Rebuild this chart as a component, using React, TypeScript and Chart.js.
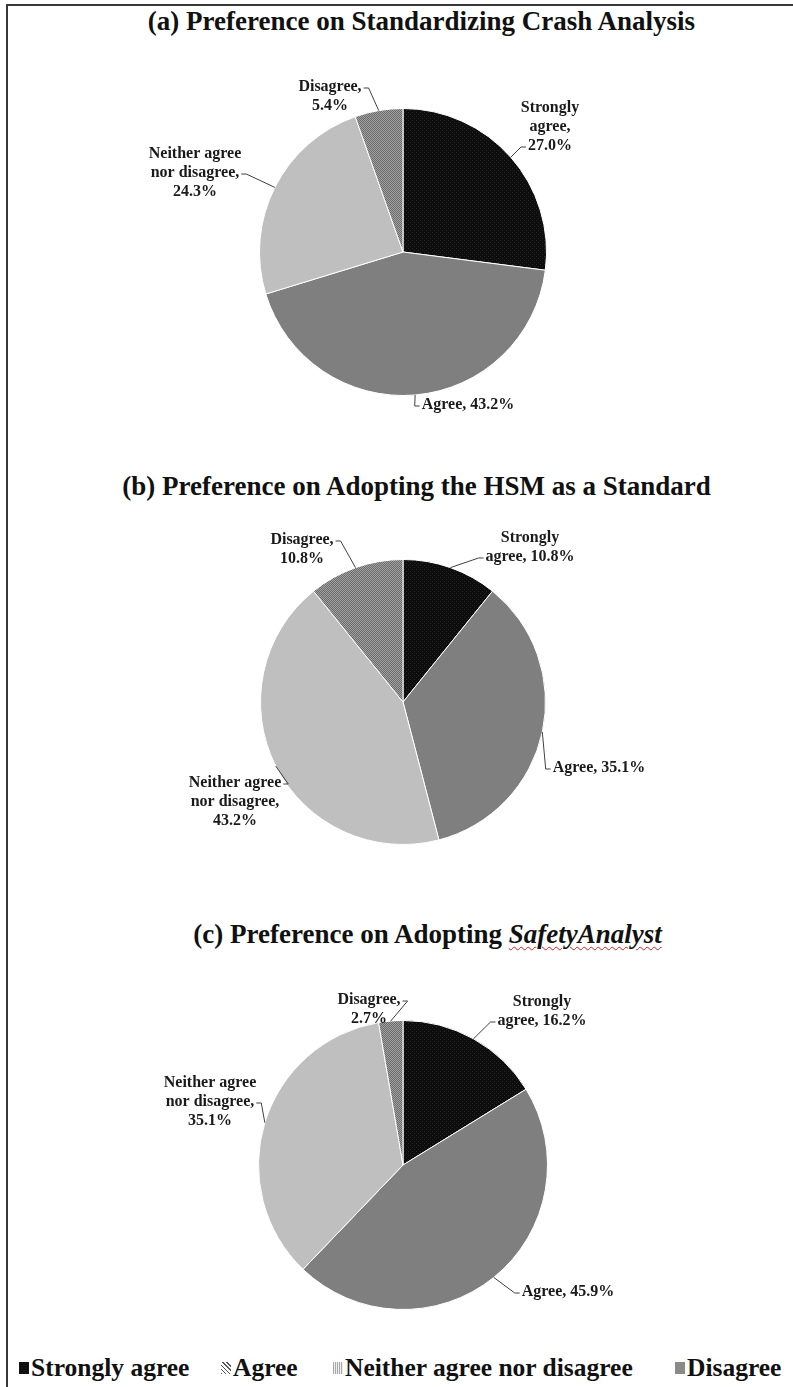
import React, { useEffect, useRef } from "react";
import { Chart, registerables } from "chart.js";

Chart.register(...registerables);

const categories = ["Strongly agree", "Agree", "Neither agree nor disagree", "Disagree"];
const standardizingValues = [27.0, 43.2, 24.3, 5.4];
const hsmValues = [10.8, 35.1, 43.2, 10.8];
const safetyAnalystValues = [16.2, 45.9, 35.1, 2.7];

const FONT = '"Liberation Serif", "Times New Roman", serif';
const W = 793;

type LabelSpec = { dx: number; dy: number; breaks: number[]; line: number; side: "left" | "right" };

function makePattern(kind: string): CanvasPattern | string {
  const c = document.createElement("canvas");
  const g = c.getContext("2d");
  if (!g) return "#888";
  if (kind === "dark") {
    c.width = 4; c.height = 4;
    g.fillStyle = "#0d0d0d"; g.fillRect(0, 0, 4, 4);
    g.fillStyle = "#262626"; g.fillRect(0, 0, 1, 1); g.fillRect(2, 2, 1, 1);
  } else {
    c.width = 2; c.height = 2;
    g.fillStyle = "#a2a2a2"; g.fillRect(0, 0, 2, 2);
    g.fillStyle = "#6a6a6a"; g.fillRect(0, 0, 1, 1); g.fillRect(1, 1, 1, 1);
  }
  return g.createPattern(c, "repeat") || "#888";
}

function splitLines(text: string, breaks: number[]): string[] {
  const words = text.split(" ");
  const lines: string[] = [];
  let cur: string[] = [];
  words.forEach((w, i) => {
    cur.push(w);
    if (breaks.includes(i + 1)) { lines.push(cur.join(" ")); cur = []; }
  });
  if (cur.length) lines.push(cur.join(" "));
  return lines;
}

type PieProps = {
  values: number[];
  top: number;
  height: number;
  cx: number;
  cy: number;
  r: number;
  specs: LabelSpec[];
};

function Pie({ values, top, height, cx, cy, r, specs }: PieProps) {
  const ref = useRef<HTMLCanvasElement | null>(null);
  useEffect(() => {
    if (!ref.current) return;
    const labelPlugin = {
      id: "leaderLabels",
      afterDatasetsDraw(chart: any) {
        const ctx = chart.ctx;
        const meta = chart.getDatasetMeta(0);
        const lh = 19;
        ctx.save();
        ctx.font = `bold 16px ${FONT}`;
        ctx.fillStyle = "#1a1a1a";
        ctx.strokeStyle = "#404040";
        ctx.lineWidth = 1;
        ctx.textAlign = "center";
        ctx.textBaseline = "middle";
        meta.data.forEach((arc: any, i: number) => {
          const p = arc.getProps(["x", "y", "startAngle", "endAngle", "outerRadius"], true);
          const mid = (p.startAngle + p.endAngle) / 2;
          const ex = p.x + Math.cos(mid) * p.outerRadius;
          const ey = p.y + Math.sin(mid) * p.outerRadius;
          const s = specs[i];
          const text = `${categories[i]}, ${values[i].toFixed(1)}%`;
          const lines = splitLines(text, s.breaks);
          const tx = p.x + s.dx;
          const ty0 = p.y + s.dy;
          lines.forEach((ln, k) => ctx.fillText(ln, tx, ty0 + k * lh));
          const w = ctx.measureText(lines[s.line]).width;
          const ay = ty0 + s.line * lh + 1;
          const ax = s.side === "left" ? tx - w / 2 - 2 : tx + w / 2 + 2;
          const bx = s.side === "left" ? ax - 5 : ax + 5;
          ctx.beginPath();
          ctx.moveTo(ax, ay);
          ctx.lineTo(bx, ay);
          ctx.lineTo(ex, ey);
          ctx.stroke();
        });
        ctx.restore();
      },
    };
    const chart = new Chart(ref.current, {
      type: "pie",
      data: {
        labels: categories,
        datasets: [
          {
            data: values,
            backgroundColor: [makePattern("dark"), "#7f7f7f", "#bfbfbf", makePattern("check")] as any,
            borderColor: "#ffffff",
            borderWidth: 1,
          },
        ],
      },
      options: {
        responsive: false,
        animation: false,
        events: [],
        layout: {
          padding: {
            left: cx - r,
            right: W - cx - r,
            top: cy - top - r,
            bottom: top + height - cy - r,
          },
        },
        plugins: { legend: { display: false }, tooltip: { enabled: false }, title: { display: false } },
      } as any,
      plugins: [labelPlugin],
    });
    return () => chart.destroy();
  }, []);
  return (
    <canvas
      ref={ref}
      width={W}
      height={height}
      style={{ position: "absolute", left: 0, top, width: W, height }}
    />
  );
}

const specsA: LabelSpec[] = [
  { dx: 147, dy: -144, breaks: [1, 2], line: 2, side: "left" },
  { dx: 65, dy: 153, breaks: [], line: 0, side: "left" },
  { dx: -208, dy: -98, breaks: [2, 4], line: 1, side: "right" },
  { dx: -73, dy: -165, breaks: [1], line: 0, side: "right" },
];
const specsB: LabelSpec[] = [
  { dx: 127, dy: -164, breaks: [1], line: 1, side: "left" },
  { dx: 196, dy: 66, breaks: [], line: 0, side: "left" },
  { dx: -168, dy: 81, breaks: [2, 4], line: 0, side: "right" },
  { dx: -101, dy: -162, breaks: [1], line: 0, side: "right" },
];
const specsC: LabelSpec[] = [
  { dx: 139, dy: -163, breaks: [1], line: 1, side: "left" },
  { dx: 165, dy: 127, breaks: [], line: 0, side: "left" },
  { dx: -193, dy: -82, breaks: [2, 4], line: 1, side: "right" },
  { dx: -34, dy: -165, breaks: [1], line: 0, side: "right" },
];

const titleStyle = (centerY: number, shift: number): React.CSSProperties => ({
  position: "absolute",
  left: 0,
  width: W,
  top: centerY - 16,
  height: 32,
  lineHeight: "32px",
  textAlign: "center",
  font: `bold 27px ${FONT}`,
  color: "#111",
  paddingLeft: shift,
  boxSizing: "border-box",
  whiteSpace: "nowrap",
});

const legendMarkers = [
  { background: "#111" },
  { background: "repeating-linear-gradient(45deg, #555 0 1px, #fff 1px 3px)" },
  { background: "repeating-linear-gradient(90deg, #aaa 0 1px, #eee 1px 2px)" },
  { background: "#8a8a8a" },
];
const legendX = [19, 221, 333, 675];

export default function App() {
  return (
    <div style={{ position: "absolute", left: 0, top: 0, width: W, height: 1387, background: "#fff", overflow: "hidden" }}>
      <div
        style={{
          position: "absolute",
          left: 6,
          top: 4,
          width: W - 6,
          height: 1383,
          borderTop: "2px solid #383838",
          borderLeft: "2px solid #383838",
          boxSizing: "border-box",
        }}
      />
      <div style={titleStyle(22, 50)}>(a) Preference on Standardizing Crash Analysis</div>
      <Pie values={standardizingValues} top={44} height={426} cx={403} cy={252} r={144} specs={specsA} />
      <div style={titleStyle(487, 40)}>(b) Preference on Adopting the HSM as a Standard</div>
      <Pie values={hsmValues} top={505} height={395} cx={403} cy={702} r={143} specs={specsB} />
      <div style={titleStyle(935, 62)}>
        (c) Preference on Adopting{" "}
        <span style={{ fontStyle: "italic", textDecoration: "underline wavy #d02020", textDecorationThickness: "1px", textUnderlineOffset: "3px" }}>
          SafetyAnalyst
        </span>
      </div>
      <Pie values={safetyAnalystValues} top={955} height={380} cx={403} cy={1165} r={145} specs={specsC} />
      {categories.map((c, i) => (
        <div
          key={c}
          style={{
            position: "absolute",
            left: legendX[i],
            top: 1354,
            height: 28,
            lineHeight: "28px",
            font: `bold 25.5px ${FONT}`,
            color: "#111",
            whiteSpace: "nowrap",
            display: "flex",
            alignItems: "center",
          }}
        >
          <span style={{ display: "inline-block", width: 10, height: 12, marginRight: 2, ...legendMarkers[i] }} />
          {c}
        </div>
      ))}
    </div>
  );
}
